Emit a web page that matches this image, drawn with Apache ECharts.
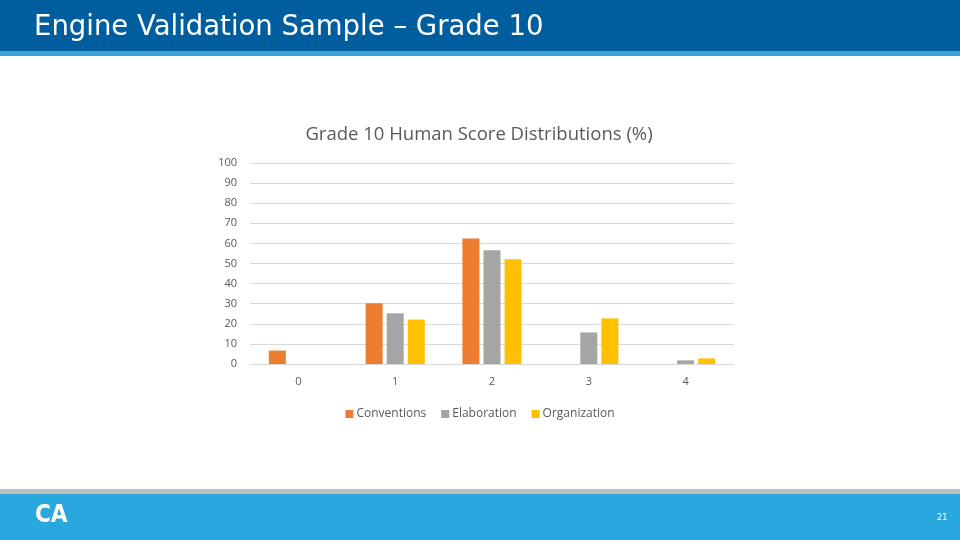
<!DOCTYPE html>
<html>
<head>
<meta charset="utf-8">
<script src="https://cdn.jsdelivr.net/npm/echarts@6/dist/echarts.min.js"></script>
<style>
  html, body { margin: 0; padding: 0; background: #fff; }
  #chart { width: 960px; height: 540px; }
</style>
</head>
<body>
<div id="chart"></div>
<script>
const scores = ['0', '1', '2', '3', '4'];
const conventions = [6.7, 30.2, 62.5, 0, 0];
const elaboration = [0, 25.2, 56.6, 15.7, 1.8];
const organization = [0, 22.1, 52.1, 22.7, 2.8];

const chart = echarts.init(document.getElementById('chart'));

const labelColor = '#595959';
const font = '"Open Sans", "Noto Sans", sans-serif';

const option = {
  animation: false,
  backgroundColor: '#ffffff',
  title: {
    text: 'Grade 10 Human Score Distributions (%)',
    left: 474,
    textAlign: 'center',
    top: 120,
    textStyle: {
      color: labelColor,
      fontSize: 18.5,
      fontWeight: 'normal',
      fontFamily: font
    }
  },
  legend: {
    top: 403,
    left: 'center',
    itemWidth: 8,
    itemHeight: 8,
    itemGap: 15,
    icon: 'rect',
    textStyle: { color: labelColor, fontSize: 12, fontFamily: font, padding: [0, 0, 0, -2] },
    data: ['Conventions', 'Elaboration', 'Organization']
  },
  grid: {
    left: 250,
    right: 226,
    top: 163,
    bottom: 176
  },
  xAxis: {
    type: 'category',
    data: scores,
    axisTick: { show: false },
    axisLine: { lineStyle: { color: '#D9D9D9' } },
    axisLabel: { color: labelColor, fontSize: 11, margin: 12, fontFamily: font }
  },
  yAxis: {
    type: 'value',
    min: 0,
    max: 100,
    interval: 10,
    axisLine: { show: false },
    axisTick: { show: false },
    splitLine: { lineStyle: { color: '#D9D9D9', width: 1 } },
    axisLabel: { color: labelColor, fontSize: 11, margin: 13, fontFamily: font }
  },
  series: [
    { name: 'Conventions', type: 'bar', data: conventions, barWidth: 17, barGap: '24%',
      itemStyle: { color: '#ED7D31' } },
    { name: 'Elaboration', type: 'bar', data: elaboration, barWidth: 17, barGap: '24%',
      itemStyle: { color: '#A5A5A5' } },
    { name: 'Organization', type: 'bar', data: organization, barWidth: 17, barGap: '24%',
      itemStyle: { color: '#FFC000' } }
  ],
  graphic: [
    // header band
    { type: 'rect', left: 0, top: 0, shape: { width: 960, height: 51 }, style: { fill: '#005E9E' }, silent: true },
    { type: 'rect', left: 0, top: 51, shape: { width: 960, height: 5 }, style: { fill: '#3BA2D9' }, silent: true },
    { type: 'text', left: 34, top: 14,
      style: { text: 'Engine Validation Sample – Grade 10', fill: '#ffffff',
               font: '27.5px "DejaVu Sans", sans-serif' } },
    // footer band
    { type: 'rect', left: 0, top: 489, shape: { width: 960, height: 5 }, style: { fill: '#BFBFBF' }, silent: true },
    { type: 'rect', left: 0, top: 494, shape: { width: 960, height: 46 }, style: { fill: '#29A8E0' }, silent: true },
    { type: 'text', left: 35, top: 504,
      style: { text: 'CA', fill: '#ffffff', font: 'bold 24px "DejaVu Sans Condensed", sans-serif' } },
    { type: 'text', left: 937, top: 513,
      style: { text: '21', fill: '#ffffff', font: '9px "DejaVu Sans Condensed", sans-serif' } }
  ]
};

chart.setOption(option);
</script>
</body>
</html>
